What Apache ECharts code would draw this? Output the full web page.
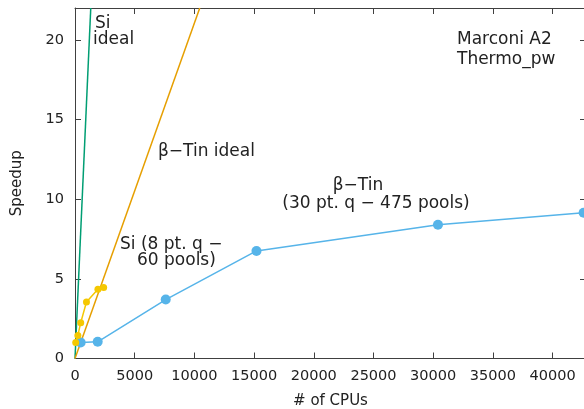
<!DOCTYPE html>
<html><head><meta charset="utf-8">
<script src="https://cdn.jsdelivr.net/npm/echarts@6/dist/echarts.min.js"></script>
<style>html,body{margin:0;padding:0;background:#fff}#c{width:584px;height:409px}</style>
</head><body><div id="c"></div>
<script>
const siCPUs = [60, 240, 480, 960, 1920, 2400];
const siSpeedup = [1.0, 1.45, 2.25, 3.55, 4.35, 4.45];
const tinCPUs = [475, 1900, 7600, 15200, 30400, 42600];
const tinSpeedup = [1.0, 1.05, 3.7, 6.75, 8.4, 9.15];
const siIdeal = [[0, 0], [1320, 22]];
const tinIdeal = [[0, 0], [10450, 22]];
const xTicks = [0, 5000, 10000, 15000, 20000, 25000, 30000, 35000, 40000];
const yTicks = [0, 5, 10, 15, 20];

const FONT = 'DejaVu Sans';
const axisColor = '#404040';
const chart = echarts.init(document.getElementById('c'));
const zip = (a, b) => a.map((v, i) => [v, b[i]]);
const txt = (x, y, s, align) => ({type: 'text', x: x, y: y, style: {text: s, font: '17px ' + FONT, fill: '#222', textAlign: align || 'left', textVerticalAlign: 'middle'}});
const line = {show: true, onZero: false, lineStyle: {color: axisColor, width: 1}};
const tick = {show: true, inside: true, length: 6, lineStyle: {color: axisColor}};

chart.setOption({
  animation: false,
  grid: {left: 75, top: 8, width: 511, height: 350.5, containLabel: false, outerBoundsMode: 'none'},
  xAxis: [
    {type: 'value', min: 0, max: 42800, interval: 5000, position: 'bottom',
     axisLine: line, axisTick: tick,
     axisLabel: {color: '#222', fontFamily: FONT, fontSize: 14.5, margin: 10, showMaxLabel: false,
       formatter: v => xTicks.includes(v) ? String(v) : ''},
     splitLine: {show: false},
     name: '# of CPUs', nameLocation: 'middle', nameGap: 35, nameTextStyle: {color: '#222', fontFamily: FONT, fontSize: 15}},
    {type: 'value', min: 0, max: 42800, interval: 5000, position: 'top',
     axisLine: line, axisTick: tick, axisLabel: {show: false}, splitLine: {show: false}}
  ],
  yAxis: [
    {type: 'value', min: 0, max: 22, interval: 5, position: 'left',
     axisLine: line, axisTick: tick,
     axisLabel: {color: '#222', fontFamily: FONT, fontSize: 14.5, margin: 11, showMaxLabel: false,
       formatter: v => yTicks.includes(v) ? String(v) : ''},
     splitLine: {show: false},
     name: 'Speedup', nameLocation: 'middle', nameGap: 50, nameTextStyle: {color: '#222', fontFamily: FONT, fontSize: 15}},
    {type: 'value', min: 0, max: 22, interval: 5, position: 'right',
     axisLine: line, axisTick: tick, axisLabel: {show: false}, splitLine: {show: false}}
  ],
  series: [
    {type: 'line', data: siIdeal, showSymbol: false, lineStyle: {color: '#009e73', width: 1.5}, clip: true, z: 3},
    {type: 'line', data: tinIdeal, showSymbol: false, lineStyle: {color: '#e69f00', width: 1.5}, clip: true, z: 3},
    {type: 'line', data: zip(tinCPUs, tinSpeedup), symbol: 'circle', symbolSize: 10,
     itemStyle: {color: '#56b4e9'}, lineStyle: {color: '#56b4e9', width: 1.5}, clip: false, z: 4},
    {type: 'line', data: zip(siCPUs, siSpeedup), symbol: 'circle', symbolSize: 7,
     itemStyle: {color: '#f5c800'}, lineStyle: {color: '#f5c800', width: 1.5}, clip: false, z: 5}
  ],
  graphic: [
    txt(95, 24, 'Si'), txt(93, 40, 'ideal'),
    txt(457, 40, 'Marconi A2'), txt(457, 60, 'Thermo_pw'),
    txt(158, 152, 'β−Tin ideal'),
    txt(358, 186, 'β−Tin', 'center'), txt(376, 204, '(30 pt. q − 475 pools)', 'center'),
    txt(120, 245, 'Si (8 pt. q −'), txt(137, 261, '60 pools)')
  ]
});
</script></body></html>
